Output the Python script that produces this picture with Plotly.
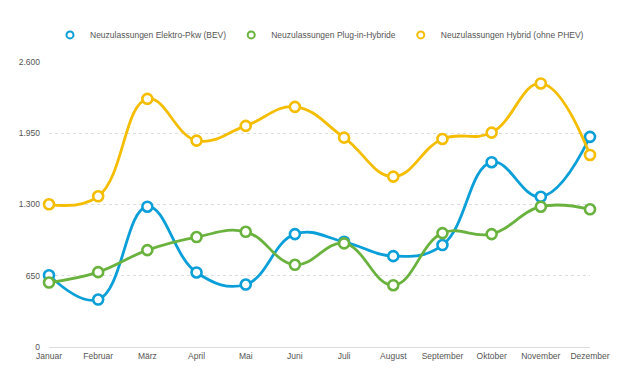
import plotly.graph_objects as go

months = ["Januar", "Februar", "März", "April", "Mai", "Juni", "Juli",
          "August", "September", "Oktober", "November", "Dezember"]
bev = [655, 433, 1280, 680, 570, 1030, 960, 829, 930, 1686, 1371, 1917]
phev = [588, 683, 884, 1003, 1051, 750, 945, 564, 1039, 1030, 1280, 1256]
hybrid = [1302, 1375, 2264, 1883, 2017, 2191, 1910, 1554, 1898, 1956, 2404, 1752]
series_names = ["Neuzulassungen Elektro-Pkw (BEV)",
                "Neuzulassungen Plug-in-Hybride",
                "Neuzulassungen Hybrid (ohne PHEV)"]
y_ticks = [0, 650, 1300, 1950, 2600]
y_tick_labels = ["0", "650", "1.300", "1.950", "2.600"]

colors = ["#0A9FD8", "#6AB23E", "#F5BD00"]
xs = list(range(len(months)))

fig = go.Figure()
for name, vals, c in zip(series_names, [bev, phev, hybrid], colors):
    fig.add_trace(go.Scatter(
        x=xs, y=vals, name=name, mode="lines+markers", showlegend=False,
        line=dict(color=c, width=2.8, shape="spline", smoothing=1.2),
        marker=dict(size=10, color="white", line=dict(color=c, width=2.6)),
        cliponaxis=False,
    ))
# legend entries: small open circles only
for name, c in zip(series_names, colors):
    fig.add_trace(go.Scatter(
        x=[None], y=[None], name=name, mode="markers", showlegend=True,
        marker=dict(size=7, color="white", line=dict(color=c, width=2)),
    ))

font = "Liberation Sans, Arial, Helvetica, sans-serif"
# page body has an 8px margin, so the figure is 612x367 starting at (8, 8)
fig.update_layout(
    width=612, height=367,
    margin=dict(l=41, r=30, t=54, b=28, autoexpand=False),
    paper_bgcolor="white", plot_bgcolor="white",
    font=dict(family=font, size=8.5, color="#555555"),
    showlegend=True,
    legend=dict(orientation="h", x=0.5, xanchor="center", y=1.095, yanchor="middle",
                font=dict(size=8.5, color="#555555"),
                itemwidth=30, tracegroupgap=0),
    xaxis=dict(range=[0, 11], tickmode="array", tickvals=xs, ticktext=months,
               showgrid=False, zeroline=False, showline=False, ticks="",
               ticklabelstandoff=2, tickfont=dict(size=8.5, color="#555555"),
               automargin=False),
    yaxis=dict(range=[0, 2600], tickmode="array", tickvals=y_ticks, ticktext=y_tick_labels,
               showgrid=True, gridcolor="#DDDDDD", griddash="dot", gridwidth=1,
               zeroline=True, zerolinecolor="#DDDDDD", zerolinewidth=1,
               showline=False, ticks="", ticklabelstandoff=8,
               tickfont=dict(size=8.5, color="#555555"), automargin=False),
)
fig.write_html("out.html")
